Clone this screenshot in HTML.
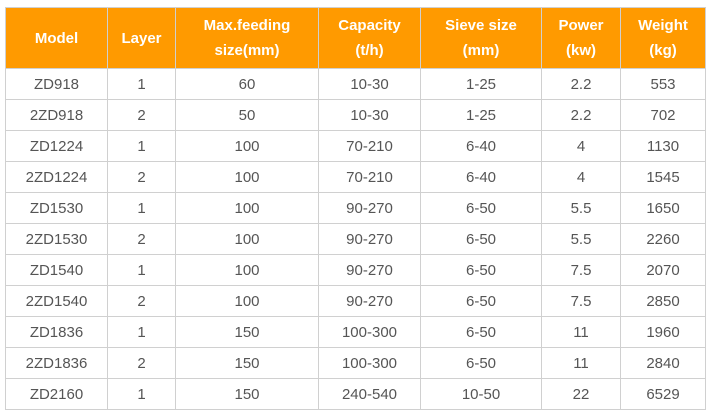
<!DOCTYPE html>
<html><head><style>
body{margin:0;width:715px;height:420px;background:#fff;font-family:"Liberation Sans",Arial,sans-serif;}
table{position:absolute;left:5px;top:7px;border-collapse:collapse;table-layout:fixed;}
td,th{border:1px solid #d0d0d0;text-align:center;padding:0;}
th{background:#ff9a00;color:#fff;font-weight:bold;font-size:15px;height:60px;line-height:25px;}
td{color:#555;font-size:15px;height:30px;}
</style></head><body>
<table>
<colgroup><col style="width:102px"><col style="width:68px"><col style="width:143px"><col style="width:102px"><col style="width:121px"><col style="width:79px"><col style="width:85px"></colgroup>
<tr><th>Model</th><th>Layer</th><th>Max.feeding<br>size(mm)</th><th>Capacity<br>(t/h)</th><th>Sieve size<br>(mm)</th><th>Power<br>(kw)</th><th>Weight<br>(kg)</th></tr>
<tr><td>ZD918</td><td>1</td><td>60</td><td>10-30</td><td>1-25</td><td>2.2</td><td>553</td></tr>
<tr><td>2ZD918</td><td>2</td><td>50</td><td>10-30</td><td>1-25</td><td>2.2</td><td>702</td></tr>
<tr><td>ZD1224</td><td>1</td><td>100</td><td>70-210</td><td>6-40</td><td>4</td><td>1130</td></tr>
<tr><td>2ZD1224</td><td>2</td><td>100</td><td>70-210</td><td>6-40</td><td>4</td><td>1545</td></tr>
<tr><td>ZD1530</td><td>1</td><td>100</td><td>90-270</td><td>6-50</td><td>5.5</td><td>1650</td></tr>
<tr><td>2ZD1530</td><td>2</td><td>100</td><td>90-270</td><td>6-50</td><td>5.5</td><td>2260</td></tr>
<tr><td>ZD1540</td><td>1</td><td>100</td><td>90-270</td><td>6-50</td><td>7.5</td><td>2070</td></tr>
<tr><td>2ZD1540</td><td>2</td><td>100</td><td>90-270</td><td>6-50</td><td>7.5</td><td>2850</td></tr>
<tr><td>ZD1836</td><td>1</td><td>150</td><td>100-300</td><td>6-50</td><td>11</td><td>1960</td></tr>
<tr><td>2ZD1836</td><td>2</td><td>150</td><td>100-300</td><td>6-50</td><td>11</td><td>2840</td></tr>
<tr><td>ZD2160</td><td>1</td><td>150</td><td>240-540</td><td>10-50</td><td>22</td><td>6529</td></tr>
</table>
</body></html>
